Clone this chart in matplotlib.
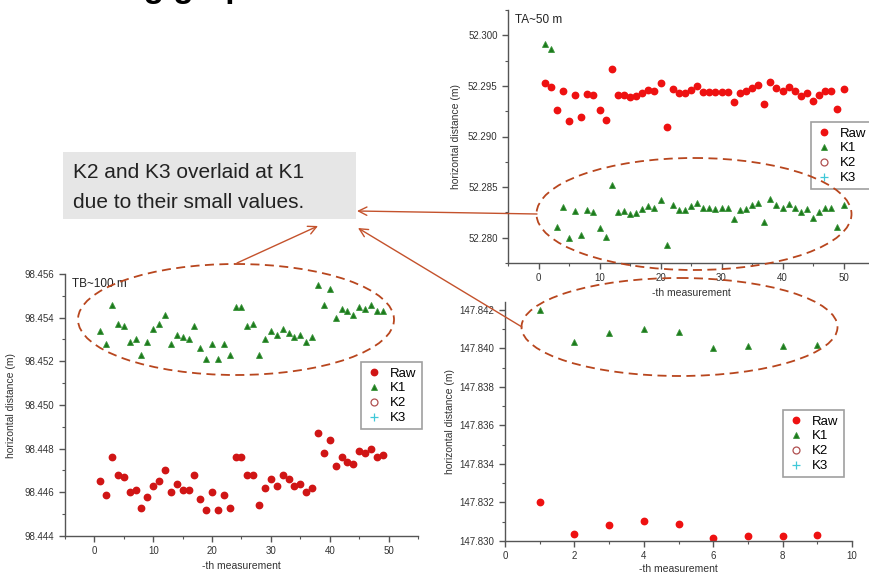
import matplotlib

matplotlib.use("Agg")
import matplotlib.pyplot as plt
from matplotlib.patches import Ellipse, Rectangle, FancyArrowPatch
from matplotlib.ticker import MultipleLocator, FormatStrFormatter

plt.rcParams["font.family"] = ["Liberation Sans", "DejaVu Sans"]

W, H = 869, 577

# TA ~ 50 m
ta_x = list(range(1, 51))
ta_raw = [
    52.2953, 52.2949, 52.2926, 52.2945, 52.2915, 52.2941, 52.2919, 52.2942, 52.2941, 52.2926,
    52.2916, 52.2967, 52.2941, 52.2941, 52.2939, 52.2940, 52.2943, 52.2946, 52.2945, 52.2953,
    52.2909, 52.2947, 52.2943, 52.2943, 52.2946, 52.2950, 52.2944, 52.2944, 52.2944, 52.2944,
    52.2944, 52.2934, 52.2943, 52.2945, 52.2948, 52.2951, 52.2932, 52.2954, 52.2948, 52.2945,
    52.2949, 52.2945, 52.2940, 52.2943, 52.2935, 52.2941, 52.2945, 52.2945, 52.2927, 52.2947,
]
ta_k1 = [
    52.2991, 52.2986, 52.2811, 52.2830, 52.2800, 52.2826, 52.2803, 52.2827, 52.2825, 52.2810,
    52.2801, 52.2852, 52.2825, 52.2826, 52.2823, 52.2824, 52.2828, 52.2831, 52.2829, 52.2837,
    52.2793, 52.2832, 52.2827, 52.2827, 52.2831, 52.2834, 52.2829, 52.2829, 52.2828, 52.2829,
    52.2829, 52.2818, 52.2827, 52.2828, 52.2832, 52.2834, 52.2816, 52.2838, 52.2832, 52.2829,
    52.2833, 52.2829, 52.2825, 52.2828, 52.2819, 52.2825, 52.2829, 52.2829, 52.2811, 52.2832,
]

# TB ~ 100 m
tb_x = list(range(1, 50))
tb_raw = [
    98.4465, 98.4459, 98.4476, 98.4468, 98.4467, 98.4460, 98.4461, 98.4453, 98.4458, 98.4463,
    98.4465, 98.4470, 98.4460, 98.4464, 98.4461, 98.4461, 98.4468, 98.4457, 98.4452, 98.4460,
    98.4452, 98.4459, 98.4453, 98.4476, 98.4476, 98.4468, 98.4468, 98.4454, 98.4462, 98.4466,
    98.4463, 98.4468, 98.4466, 98.4463, 98.4464, 98.4460, 98.4462, 98.4487, 98.4478, 98.4484,
    98.4472, 98.4476, 98.4474, 98.4473, 98.4479, 98.4478, 98.4480, 98.4476, 98.4477,
]
tb_k1 = [
    98.4534, 98.4528, 98.4546, 98.4537, 98.4536, 98.4529, 98.4530, 98.4523, 98.4529, 98.4535,
    98.4537, 98.4541, 98.4528, 98.4532, 98.4531, 98.4530, 98.4536, 98.4526, 98.4521, 98.4528,
    98.4521, 98.4528, 98.4523, 98.4545, 98.4545, 98.4536, 98.4537, 98.4523, 98.4530, 98.4534,
    98.4532, 98.4535, 98.4533, 98.4531, 98.4532, 98.4529, 98.4531, 98.4555, 98.4546, 98.4553,
    98.4540, 98.4544, 98.4543, 98.4541, 98.4545, 98.4544, 98.4546, 98.4543, 98.4543,
]

# ~150 m
br_x = list(range(1, 10))
br_raw = [147.8320, 147.83038, 147.83081, 147.83104, 147.8309, 147.83017, 147.83024, 147.83026, 147.83033]
br_k1 = [147.84198, 147.84034, 147.84077, 147.84098, 147.84084, 147.84003, 147.84010, 147.84010, 147.84015]

series_labels = ["Raw", "K1", "K2", "K3"]

RED_LINE = "#b8461e"
ARROW = "#c4522c"
GREEN = "#1c7a1c"


def rect_px(left, top, right, bottom):
    return [left / W, 1 - bottom / H, (right - left) / W, (bottom - top) / H]


def draw_panel(fig, rect, x, raw, k1, xlim, ylim, xmaj, ymaj, tag, leg_xy, raw_color,
               xpad=3, ypad=5):
    ax = fig.add_axes(rect)
    ax.plot(x, raw, "o", ms=4.6, color=raw_color, mec=raw_color, label=series_labels[0])
    ax.plot(x, k1, "^", ms=5.0, color=GREEN, mec="#3a943a", mew=0.6, label=series_labels[1])
    ax.plot([], [], "o", ms=5, mfc="none", mec="#b05050", mew=0.9, label=series_labels[2])
    ax.plot([], [], "+", ms=6, color="#40c8d8", mew=0.9, label=series_labels[3])
    ax.set_xlim(*xlim)
    ax.set_ylim(*ylim)
    ax.xaxis.set_major_locator(MultipleLocator(xmaj))
    ax.xaxis.set_minor_locator(MultipleLocator(xmaj / 2))
    ax.yaxis.set_major_locator(MultipleLocator(ymaj))
    ax.yaxis.set_minor_locator(MultipleLocator(ymaj / 2))
    ax.yaxis.set_major_formatter(FormatStrFormatter("%.3f"))
    for side in ["top", "right"]:
        ax.spines[side].set_visible(False)
    for side in ["left", "bottom"]:
        ax.spines[side].set_color("#555555")
        ax.spines[side].set_linewidth(1.0)
    ax.tick_params(which="major", direction="out", length=4, width=1, colors="#555555",
                   labelcolor="#333333", labelsize=7)
    ax.tick_params(which="minor", direction="out", length=2, width=0.8, colors="#555555")
    ax.set_xlabel("-th measurement", fontsize=7.5, color="#333333", labelpad=xpad)
    ax.set_ylabel("horizontal distance (m)", fontsize=7.5, color="#333333", labelpad=ypad)
    ax.text(0.02, 0.985, tag, transform=ax.transAxes, ha="left", va="top", fontsize=8.5,
            color="#222222")
    ax.set_facecolor("none")
    leg = ax.legend(loc="upper left", bbox_to_anchor=(leg_xy[0] / W, 1 - leg_xy[1] / H),
                    bbox_transform=fig.transFigure, fontsize=9.5, frameon=True,
                    fancybox=False, borderpad=0.4, handletextpad=0.6, handlelength=1.2,
                    labelspacing=0.2, borderaxespad=0)
    leg.get_frame().set_edgecolor("#888888")
    leg.get_frame().set_linewidth(1.2)
    return ax


fig = plt.figure(figsize=(W / 100, H / 100), dpi=100)
fig.patch.set_facecolor("white")

# slide title, mostly cut off by the top edge
fig.text(32 / W, 1 + 3.5 / H, "Filtering graphs", fontsize=24, fontweight="bold",
         ha="left", va="baseline", color="black")

draw_panel(fig, rect_px(508, 10, 874, 263), ta_x, ta_raw, ta_k1, (-5, 55), (52.2775, 52.3025),
           10, 0.005, "TA~50 m", (811, 122), "#ee1111")
draw_panel(fig, rect_px(65, 274, 418, 536), tb_x, tb_raw, tb_k1, (-5, 55), (98.444, 98.456),
           10, 0.002, "TB~100 m", (361, 362), "#d01515", ypad=6)
draw_panel(fig, rect_px(505, 302, 852, 541), br_x, br_raw, br_k1, (0, 10), (147.830, 147.8424),
           2, 0.002, "", (783, 410), "#ee1111", xpad=2, ypad=3)

# overlay in pixel space for the callout
ov = fig.add_axes([0, 0, 1, 1], zorder=10)
ov.set_xlim(0, W)
ov.set_ylim(H, 0)
ov.axis("off")
ov.patch.set_alpha(0)

ov.add_patch(Rectangle((63, 152), 293, 67, facecolor="#e6e6e6", edgecolor="none"))
ov.text(73, 173, "K2 and K3 overlaid at K1", fontsize=15, color="#222222", va="center", ha="left")
ov.text(73, 202, "due to their small values.", fontsize=15, color="#222222", va="center", ha="left")

for cx, cy, w, h in [(694, 214, 315, 112), (236, 319.5, 316, 111), (679.5, 327, 316, 98)]:
    ov.add_patch(Ellipse((cx, cy), w, h, fill=False, edgecolor=RED_LINE, lw=1.3,
                         linestyle=(0, (5, 3))))

for start, end in [((537, 214), (357, 211)), ((237, 263), (318, 226)), ((522, 327), (358, 228))]:
    ov.add_patch(FancyArrowPatch(start, end, arrowstyle="->,head_length=6,head_width=3",
                                 color=ARROW, lw=1.0, shrinkA=0, shrinkB=0))

fig.savefig("out.png", dpi=100)
